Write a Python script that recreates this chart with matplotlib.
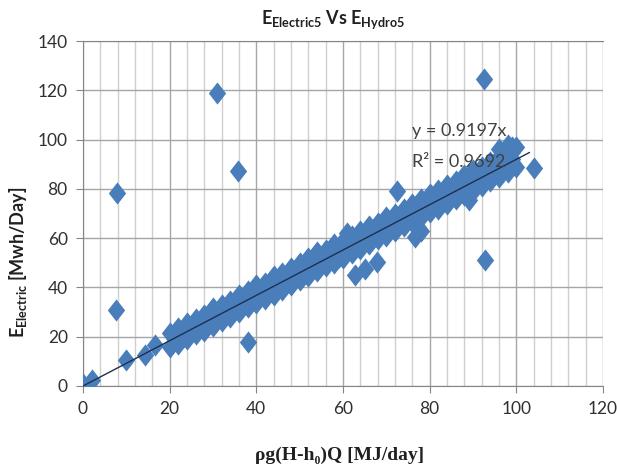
import matplotlib.pyplot as plt
from matplotlib.ticker import MultipleLocator

# main band along the trend line
band_x = [20, 22, 24, 26, 28, 30, 32, 34, 36, 38, 40, 42, 44, 46, 48, 50,
          52, 54, 56, 58, 60, 62, 64, 66, 68, 70, 72, 74, 76, 78, 80, 82,
          84, 86, 88, 90, 92, 94, 96, 98, 100]
band_hi = [21.5, 23.5, 25.5, 27, 29, 31.5, 33, 34.5, 37, 38.5, 41, 42, 44.5,
           46, 48, 50, 52, 54.5, 55, 57.5, 59, 61, 63, 65, 66, 68.5, 70, 72,
           74, 76, 78, 79.5, 81.5, 83, 85.5, 87.5, 89, 91, 93, 95.5, 97]
band_lo = [16, 17, 19, 21, 22.5, 24.5, 26.5, 28, 30, 32, 33.5, 35.5, 37,
           39, 41, 43, 44.5, 46.5, 48.5, 50, 52, 54, 55.5, 57.5, 59.5, 61, 63,
           65, 66.5, 68.5, 70.5, 72, 74, 76, 77.5, 79, 81, 83, 85, 87, 89]
mid_x = [21, 23, 25, 27, 29, 31, 33, 35, 37, 39, 41, 43, 45, 47, 49, 51, 53,
         55, 57, 59, 61, 63, 65, 67, 69, 71, 73, 75, 77, 79, 81, 83, 85, 87,
         89, 91, 93, 95, 97, 99]
mid_y = [19.5, 21, 23, 25, 27, 28.5, 30.5, 32, 34, 36, 37.5, 39.5, 41.5, 43,
         45, 47, 49, 50.5, 52.5, 54, 56, 58, 60, 61.5, 63.5, 65, 67, 69, 70.5,
         72.5, 74.5, 76.5, 78, 80, 82, 83.5, 85.5, 87.5, 94, 97]
mid2_y = [20.5, 20, 24, 23.5, 28, 27, 31.5, 31, 35.5, 35, 39.5, 38, 43, 42,
          46.5, 45.5, 50.5, 49.5, 54, 52.5, 57.5, 56.5, 61.5, 60, 65, 64, 68.5,
          67.5, 72.5, 71, 76, 75.5, 80, 78.5, 84, 82, 87.5, 86, 90, 92]

# scattered points off the band
out_x = [0, 2, 10, 14.3, 16.6, 7.5, 7.8, 31, 35.8, 38, 62.8, 65, 67.9, 72.5,
         76.7, 78, 89, 61, 92.6, 92.8, 104, 96, 98]
out_y = [1, 2.4, 10.5, 12.6, 16.7, 31, 78.5, 118.7, 87.4, 18, 45, 47.5, 50.4,
         79, 60.6, 63, 75.6, 62, 124.4, 51.2, 88.6, 96, 98]

slope = 0.9197
trend_x = [0, 103]

xs = band_x + band_x + mid_x + mid_x + out_x
ys = band_hi + band_lo + mid_y + mid2_y + out_y

fig = plt.figure(figsize=(6.17, 4.68), dpi=100)
ax = fig.add_axes([83 / 617, 1 - 386 / 468, 520 / 617, 345 / 468])

diamond = [(0, 1), (0.78, 0), (0, -1), (-0.78, 0), (0, 1)]
ax.plot(xs, ys, linestyle='none', marker=diamond, markersize=16,
        color='#4a7ebb', markeredgewidth=0, zorder=3)
ax.plot(trend_x, [slope * v for v in trend_x], color='#1f2f4f', lw=1.0, zorder=4)

ax.set_xlim(0, 120)
ax.set_ylim(0, 140)
ax.xaxis.set_major_locator(MultipleLocator(20))
ax.xaxis.set_minor_locator(MultipleLocator(4))
ax.yaxis.set_major_locator(MultipleLocator(20))
ax.grid(which='major', axis='both', color='#a6a6a6', lw=1.0)
ax.grid(which='minor', axis='x', color='#cfcfcf', lw=1.0)
ax.set_axisbelow(True)

ax.spines['right'].set_visible(False)
for s in ['left', 'bottom', 'top']:
    ax.spines[s].set_color('#868686')
ax.tick_params(which='major', length=5, color='#868686', labelsize=12.5,
               labelcolor='#303030', pad=6)
ax.tick_params(which='minor', length=0)
for lab in ax.get_xticklabels() + ax.get_yticklabels():
    lab.set_family('Lato')

plt.rcParams['mathtext.fontset'] = 'custom'
plt.rcParams['mathtext.bf'] = 'Lato:bold'
plt.rcParams['mathtext.rm'] = 'Lato'

fig.text(333 / 617, 1 - 20 / 468, r'$\mathbf{E_{Electric5}}$ Vs $\mathbf{E_{Hydro5}}$',
         ha='center', va='center', fontsize=13, fontweight='bold',
         family='Lato', color='#202020')
fig.text(18 / 617, 1 - 262 / 468, r'$\mathbf{E_{Electric}}$ [Mwh/Day]',
         ha='center', va='center', rotation=90, fontsize=13, fontweight='bold',
         family='Lato', color='#202020')
fig.text(340 / 617, 1 - 455 / 468, 'ρg(H-h₀)Q [MJ/day]',
         ha='center', va='center', fontsize=14, fontweight='bold',
         family=['Liberation Serif', 'DejaVu Serif'], color='#202020')

ax.text(76, 103.5, 'y = 0.9197x', fontsize=13, family='Lato',
        color='#404040', va='center', zorder=5)
ax.text(76, 91, 'R² = 0.9692', fontsize=13, family='Lato',
        color='#404040', va='center', zorder=5)

fig.savefig('out.png', dpi=100)
